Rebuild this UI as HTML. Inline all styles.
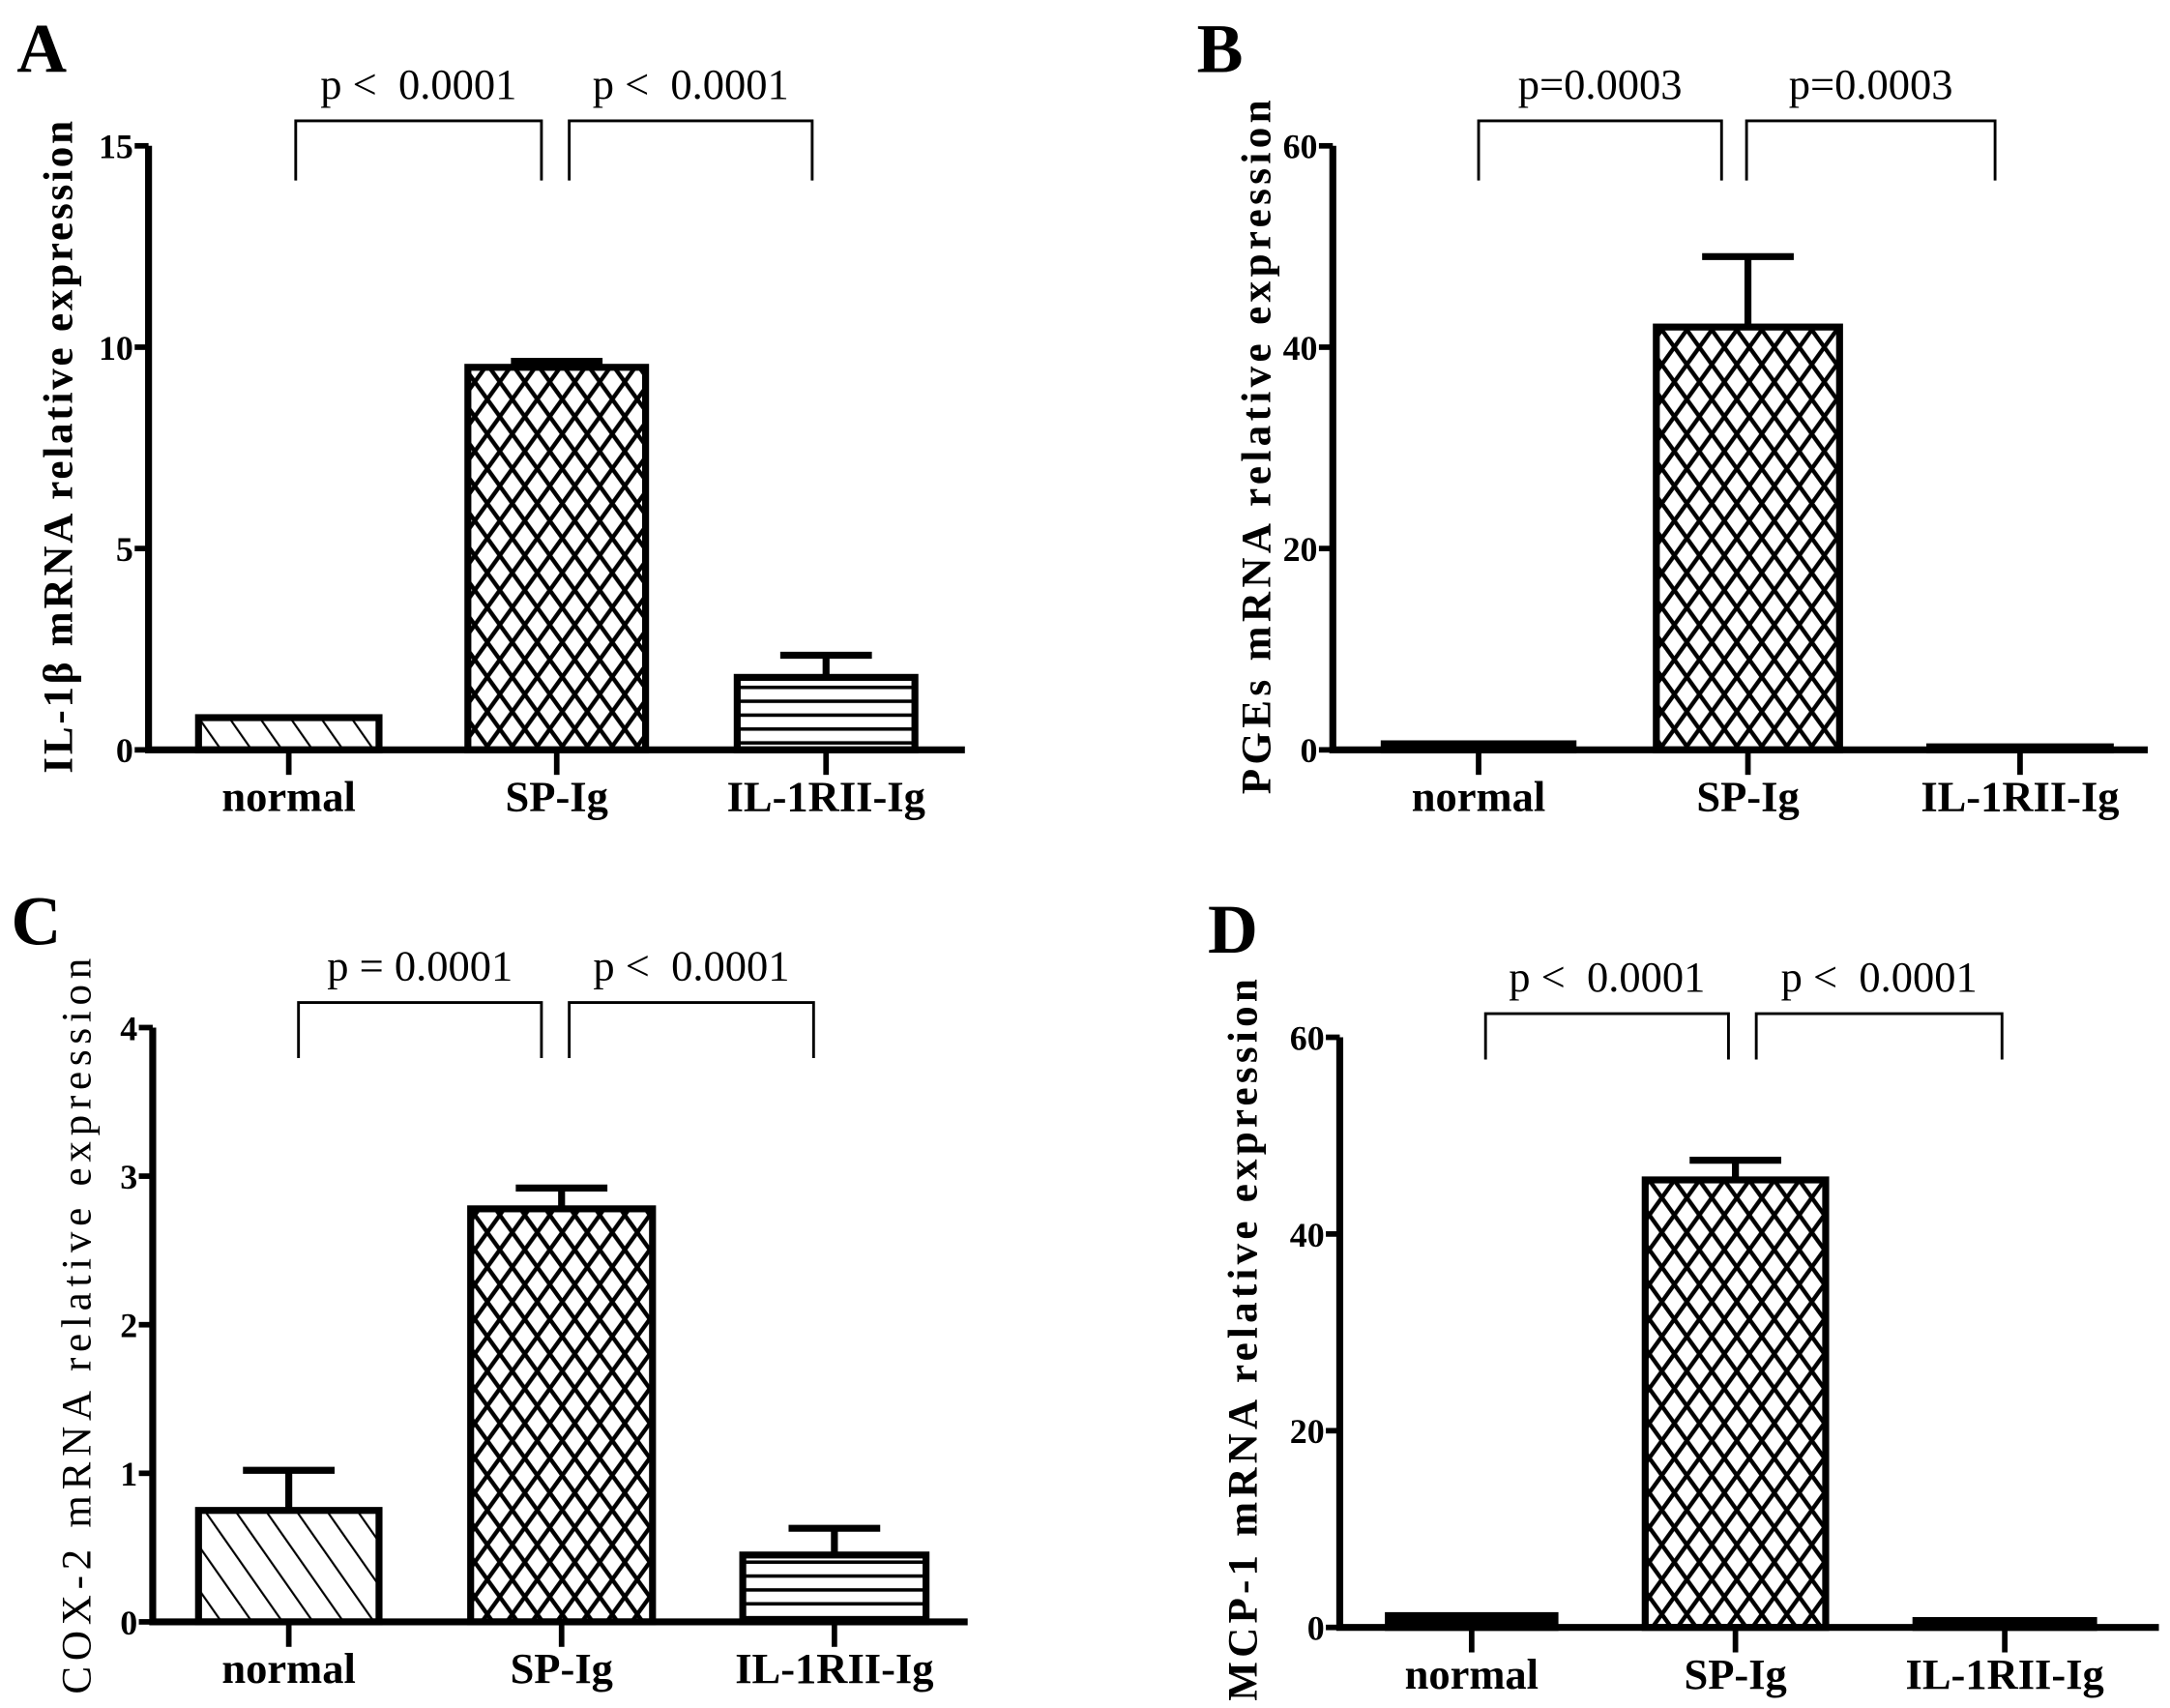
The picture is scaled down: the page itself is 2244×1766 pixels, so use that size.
<!DOCTYPE html>
<html><head><meta charset="utf-8"><style>
html,body{margin:0;padding:0;background:#fff;}
svg{display:block;}
text{font-family:"Liberation Serif",serif;fill:#000;}
</style></head><body>
<svg id="fig" width="2244" height="1766" viewBox="0 0 1563 1230" xmlns="http://www.w3.org/2000/svg">
<defs>
<pattern id="pDiag" patternUnits="userSpaceOnUse" width="18" height="18" patternTransform="rotate(-35)">
<line x1="0" y1="0" x2="0" y2="18" stroke="#000" stroke-width="3"/></pattern>
<pattern id="pCross" patternUnits="userSpaceOnUse" width="18" height="25">
<path d="M0,0 L18,25 M18,0 L0,25 M-9,12.5 L0,25 M9,-12.5 L18,0" stroke="#000" stroke-width="3" fill="none"/></pattern>
<pattern id="pHoriz" patternUnits="userSpaceOnUse" width="10" height="10">
<line x1="0" y1="5" x2="10" y2="5" stroke="#000" stroke-width="2.5"/></pattern>
</defs>
<g id="root"></g>
</svg>
<script>
const categories = ["normal","SP-Ig","IL-1RII-Ig"];
const valuesA = [0.8, 9.5, 1.8];
const errorsA = [0.8, 9.65, 2.35];
const valuesB = [0.6, 42, 0.3];
const errorsB = [0.6, 49, 0.3];
const valuesC = [0.75, 2.78, 0.45];
const errorsC = [1.02, 2.92, 0.63];
const valuesD = [1.2, 45.5, 0.7];
const errorsD = [1.2, 47.5, 0.7];
const ticksA = [0,5,10,15];
const ticksB = [0,20,40,60];
const ticksC = [0,1,2,3,4];
const ticksD = [0,20,40,60];
const pA = ["p\u00A0<\u00A0 0.0001","p\u00A0<\u00A0 0.0001"];
const pB = ["p=0.0003","p=0.0003"];
const pC = ["p = 0.0001","p\u00A0<\u00A0 0.0001"];
const pD = ["p\u00A0<\u00A0 0.0001","p\u00A0<\u00A0 0.0001"];

const NS="http://www.w3.org/2000/svg";
const root=document.getElementById('root');
function mk(tag,attrs,parent){const e=document.createElementNS(NS,tag);for(const k in attrs)e.setAttribute(k,attrs[k]);(parent||root).appendChild(e);return e;}

const panels=[
 {id:"a",letter:"A",lx:12,ly:52,ax:107,x1:695,y0:540,yTop:105,max:15,ticks:ticksA,vals:valuesA,errs:errorsA,p:pA,
  bars:[[143,273],[337,465],[531,659]],br:[[213,390],[410,585]],brTop:87,brBot:130,
  title:"IL-1\u03B2  mRNA relative expression",tx:42,tyc:322,tbold:true,tlen:470},
 {id:"b",letter:"B",lx:862,ly:52,ax:960,x1:1547,y0:540,yTop:105,max:60,ticks:ticksB,vals:valuesB,errs:errorsB,p:pB,
  bars:[[997,1133],[1193,1325],[1390,1520]],br:[[1065,1240],[1258,1437]],brTop:87,brBot:130,
  title:"PGEs mRNA relative expression",tx:905,tyc:322,tbold:true,tlen:500},
 {id:"c",letter:"C",lx:8,ly:680,ax:110,x1:697,y0:1168,yTop:740,max:4,ticks:ticksC,vals:valuesC,errs:errorsC,p:pC,
  bars:[[143,273],[339,470],[535,667]],br:[[215,390],[410,586]],brTop:722,brBot:762,
  title:"COX-2 mRNA relative expression",tx:55,tyc:955,tbold:false,tlen:530},
 {id:"d",letter:"D",lx:870,ly:686,ax:965,x1:1555,y0:1172,yTop:747,max:60,ticks:ticksD,vals:valuesD,errs:errorsD,p:pD,
  bars:[[1000,1120],[1185,1315],[1380,1508]],br:[[1070,1245],[1265,1442]],brTop:730,brBot:763,
  title:"MCP-1 mRNA relative expression",tx:895,tyc:965,tbold:true,tlen:520}
];
const fills=["url(#pDiag)","url(#pCross)","url(#pHoriz)"];

panels.forEach(P=>{
 const g=mk('g',{});
 
 
 const y=v=>P.y0-(v/P.max)*(P.y0-P.yTop);
 const lt=mk('text',{x:P.lx,y:P.ly,'font-size':50,'font-weight':'bold'},g);lt.textContent=P.letter;
 
 
 const t=mk('text',{x:0,y:0,'font-size':30,'font-weight':P.tbold?'bold':'normal','text-anchor':'middle',
   transform:`translate(${P.tx+10},${P.tyc}) rotate(-90)`,textLength:P.tlen,lengthAdjust:'spacing'},g);
 t.textContent=P.title;
 
 
 P.vals.forEach((v,i)=>{
  const [bx0,bx1]=P.bars[i];const top=y(v);const h=Math.max(P.y0-top,1);
  const cx=(bx0+bx1)/2;
  const e=P.errs[i];
  if(e>v){
   const el=mk('path',{d:`M${cx},${top} V${y(e)} M${cx-33},${y(e)} H${cx+33}`,stroke:'#000','stroke-width':5,fill:'none'},g);
   
   
  }
  const r=mk('rect',{x:bx0,y:top,width:bx1-bx0,height:h,fill:h<12?'#000':fills[i],stroke:'#000','stroke-width':5},g);
  
  
  const tk=mk('line',{x1:cx,x2:cx,y1:P.y0,y2:P.y0+18,stroke:'#000','stroke-width':4},g);
  
  
  const xl=mk('text',{x:cx,y:P.y0+44,'font-size':31,'font-weight':'bold','text-anchor':'middle'},g);
  xl.textContent=categories[i];
  
  
 });
 const ax=mk('path',{d:`M${P.ax},${P.yTop} V${P.y0} H${P.x1}`,stroke:'#000','stroke-width':5,fill:'none'},g);
 
 
 P.ticks.forEach(tv=>{
  const ty=y(tv);
  const tl=mk('line',{x1:P.ax-10,x2:P.ax,y1:ty,y2:ty,stroke:'#000','stroke-width':4},g);
  
  
  const tt=mk('text',{x:P.ax-11,y:ty+9,'font-size':25,'font-weight':'bold','text-anchor':'end'},g);
  tt.textContent=tv;
  
  
 });
 P.br.forEach((b,i)=>{
  const bp=mk('path',{d:`M${b[0]},${P.brBot} V${P.brTop} H${b[1]} V${P.brBot}`,stroke:'#000','stroke-width':2,fill:'none'},g);
  
  
  const pt=mk('text',{x:(b[0]+b[1])/2,y:P.brTop-16,'font-size':31,'text-anchor':'middle'},g);
  pt.textContent=P.p[i];
  
  
 });
});
</script>
</body></html>
